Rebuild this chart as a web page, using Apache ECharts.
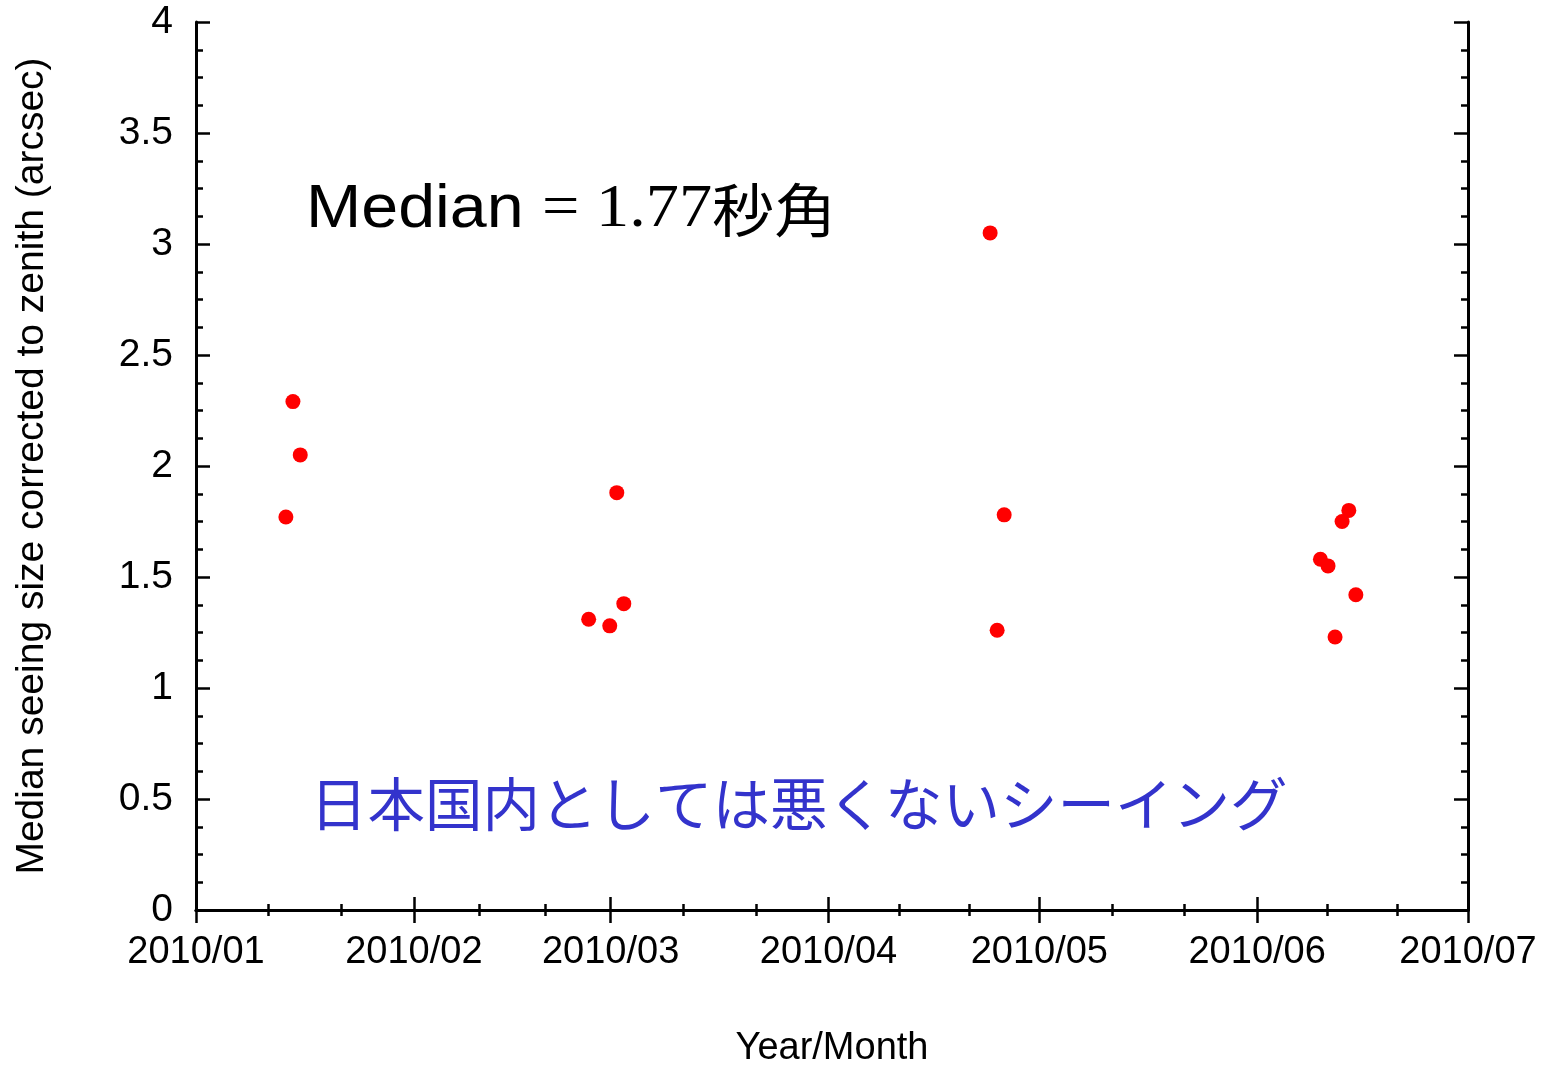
<!DOCTYPE html>
<html>
<head>
<meta charset="utf-8">
<script src="https://cdn.jsdelivr.net/npm/echarts@6/dist/echarts.min.js"></script>
<style>
  html, body { margin: 0; padding: 0; background: #ffffff; }
  #chart { width: 1547px; height: 1066px; }
</style>
</head>
<body>
<div id="chart"></div>
<script>
// ---- data ----
const obsDates = [
  '2010-01-13 19:00', '2010-01-14 19:00', '2010-01-15 20:00',
  '2010-02-25 21:00', '2010-02-28 21:00', '2010-03-01 21:00', '2010-03-02 21:00',
  '2010-04-24 00:00', '2010-04-25 00:00', '2010-04-26 00:00',
  '2010-06-10 00:00', '2010-06-11 02:00', '2010-06-12 02:00', '2010-06-13 02:00', '2010-06-14 01:00', '2010-06-15 01:00'
];
const seeingValues = [
  1.77, 2.29, 2.05,
  1.31, 1.28, 1.88, 1.38,
  3.05, 1.26, 1.78,
  1.58, 1.55, 1.23, 1.75, 1.80, 1.42
];
const yTicks = [0, 0.5, 1, 1.5, 2, 2.5, 3, 3.5, 4];
const xRange = ['2010-01-01 00:00', '2010-07-01 00:00'];
const xAxisTitle = 'Year/Month';
const yAxisTitle = 'Median seeing size corrected to zenith (arcsec)';
const medianLabel = ['Median', '= 1.77', '秒角'];
const noteText = '日本国内としては悪くないシーイング';

// ---- chart ----
const chart = echarts.init(document.getElementById('chart'), null, { renderer: 'canvas' });
const parse = s => {
  const [d, t] = s.split(' ');
  const [y, m, dd] = d.split('-').map(Number);
  const [hh, mm] = t.split(':').map(Number);
  return new Date(y, m - 1, dd, hh, mm).getTime();
};
const xmin = parse(xRange[0]);
const xmax = parse(xRange[1]);
const DAY = 86400000;
const fontFam = '"Liberation Sans", Arial, sans-serif';
const lineStyle = { color: '#000', width: 3 };
const tickStyle = { color: '#000', width: 2.5 };
const monthFmt = v => {
  const d = new Date(v);
  return d.getFullYear() + '/' + String(d.getMonth() + 1).padStart(2, '0');
};

const xCommon = {
  type: 'time', min: xmin, max: xmax,
  minInterval: 28 * DAY, maxInterval: 31 * DAY,
  axisLine: { show: true, lineStyle: lineStyle },
  axisTick: { show: true, inside: true, length: 13, lineStyle: tickStyle },
  minorTick: { show: true, splitNumber: 3, length: 6, lineStyle: tickStyle },
  splitLine: { show: false },
  minorSplitLine: { show: false }
};
const yCommon = {
  type: 'value', min: yTicks[0], max: yTicks[yTicks.length - 1], interval: 0.5,
  axisLine: { show: true, lineStyle: lineStyle },
  axisTick: { show: true, inside: true, length: 14, lineStyle: tickStyle },
  minorTick: { show: true, splitNumber: 4, length: 7, lineStyle: tickStyle },
  splitLine: { show: false },
  minorSplitLine: { show: false }
};

chart.setOption({
  backgroundColor: '#ffffff',
  animation: false,
  grid: { left: 196, right: 79, top: 22, bottom: 156, containLabel: false, outerBoundsMode: 'none' },
  xAxis: [
    Object.assign({}, xCommon, {
      position: 'bottom',
      name: xAxisTitle, nameLocation: 'middle', nameGap: 120,
      nameTextStyle: { fontFamily: fontFam, fontSize: 38, color: '#000' },
      axisLabel: {
        show: true, margin: 24, formatter: monthFmt,
        showMinLabel: true, showMaxLabel: true,
        fontFamily: fontFam, fontSize: 38, color: '#000'
      }
    }),
    Object.assign({}, xCommon, { position: 'top', axisLabel: { show: false } })
  ],
  yAxis: [
    Object.assign({}, yCommon, {
      position: 'left',
      name: yAxisTitle, nameLocation: 'middle', nameGap: 144, nameRotate: 90,
      nameTextStyle: { fontFamily: fontFam, fontSize: 39, color: '#000' },
      axisLabel: {
        show: true, margin: 23, showMinLabel: true, showMaxLabel: true,
        fontFamily: fontFam, fontSize: 39, color: '#000'
      }
    }),
    Object.assign({}, yCommon, { position: 'right', axisLabel: { show: false } })
  ],
  series: [{
    type: 'scatter',
    xAxisIndex: 0, yAxisIndex: 0,
    symbol: 'circle', symbolSize: 15,
    itemStyle: { color: '#ff0000', opacity: 1 },
    data: obsDates.map((d, i) => [parse(d), seeingValues[i]])
  }],
  graphic: [
    {
      type: 'text', left: 306, top: 179, scaleX: 1.07,
      style: {
        text: '{a|' + medianLabel[0] + ' }{b|' + medianLabel[1] + '}{c|' + medianLabel[2] + '}',
        rich: {
          a: { fontFamily: fontFam, fontSize: 62, fill: '#000', color: '#000' },
          b: { fontFamily: '"Liberation Serif", "Times New Roman", serif', fontSize: 62, fill: '#000', color: '#000' },
          c: { fontFamily: '"Noto Sans CJK JP", sans-serif', fontSize: 58, fill: '#000', color: '#000' }
        }
      }
    },
    {
      type: 'text', left: 310, top: 775,
      style: {
        text: noteText,
        fontFamily: '"Noto Sans CJK JP", sans-serif', fontSize: 57.5,
        fill: '#3333cc'
      }
    }
  ]
});
</script>
</body>
</html>
